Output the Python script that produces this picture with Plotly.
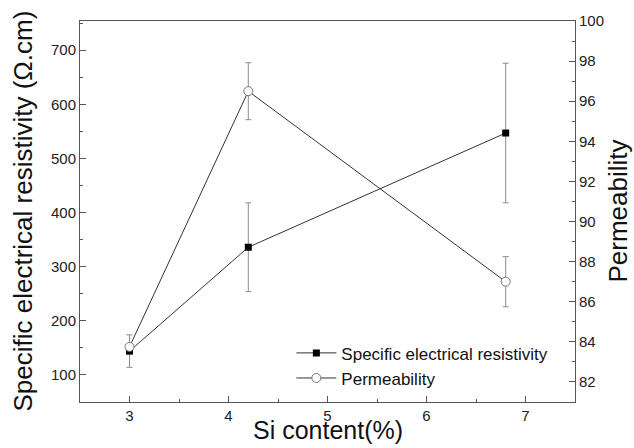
import plotly.graph_objects as go

si_content = [3.0, 4.2, 6.8]
resistivity = [144, 336, 547]
resistivity_err = [30, 82, 129]
permeability = [83.75, 96.5, 87.0]
permeability_err = [0.0, 1.42, 1.25]

font_family = "Liberation Sans, Arial, sans-serif"
axis_col = "#555555"

fig = go.Figure()
fig.add_trace(go.Scatter(
    x=si_content, y=resistivity, name="Specific electrical resistivity",
    mode="lines+markers",
    line=dict(color="#333333", width=1),
    marker=dict(symbol="square", size=7, color="black"),
    error_y=dict(type="data", array=resistivity_err, visible=True,
                 color="#8c8c8c", thickness=1, width=3),
))
fig.add_trace(go.Scatter(
    x=si_content, y=permeability, name="Permeability", yaxis="y2",
    mode="lines+markers",
    line=dict(color="#333333", width=1),
    marker=dict(symbol="circle", size=9, color="white",
                line=dict(color="#777777", width=1)),
    error_y=dict(type="data", array=permeability_err, visible=True,
                 color="#8c8c8c", thickness=1, width=3),
))

common = dict(showgrid=False, zeroline=False, showline=True, linecolor=axis_col,
              linewidth=1, ticks="inside", ticklen=6, tickcolor=axis_col,
              tickfont=dict(family=font_family, size=15, color="#222"))

fig.update_layout(
    width=634, height=448,
    margin=dict(l=80, r=59, t=15, b=46),
    paper_bgcolor="white", plot_bgcolor="white",
    font=dict(family=font_family, color="#111"),
    xaxis=dict(range=[2.5, 7.5], tickvals=[3, 4, 5, 6, 7], mirror=True,
               minor=dict(dtick=0.5, ticks="inside", ticklen=3, tickcolor=axis_col),
               **common),
    yaxis=dict(range=[50, 754], tickvals=[100, 200, 300, 400, 500, 600, 700],
               minor=dict(dtick=50, ticks="inside", ticklen=3, tickcolor=axis_col),
               **common),
    yaxis2=dict(range=[81, 100], overlaying="y", side="right",
                tickvals=list(range(82, 101, 2)),
                minor=dict(dtick=1, ticks="inside", ticklen=3, tickcolor=axis_col),
                **common),
    showlegend=True,
    legend=dict(x=0.427, y=0.175, xanchor="left", yanchor="top",
                bgcolor="rgba(0,0,0,0)", font=dict(family=font_family, size=17, color="#111"),
                tracegroupgap=0, itemwidth=40),
    annotations=[
        dict(text="Si content(%)", xref="paper", yref="paper", x=0.5, y=0,
             yshift=-44, showarrow=False, yanchor="bottom",
             font=dict(family=font_family, size=25, color="#111")),
        dict(text="Specific electrical resistivity (Ω.cm)", xref="paper", yref="paper",
             x=0, y=0.5, xshift=-58, textangle=-90, showarrow=False, xanchor="center",
             font=dict(family=font_family, size=26, color="#111")),
        dict(text="Permeability", xref="paper", yref="paper",
             x=1, y=0.5, xshift=42, textangle=-90, showarrow=False, xanchor="center",
             font=dict(family=font_family, size=26, color="#111")),
    ],
)

fig.write_html("out.html")
